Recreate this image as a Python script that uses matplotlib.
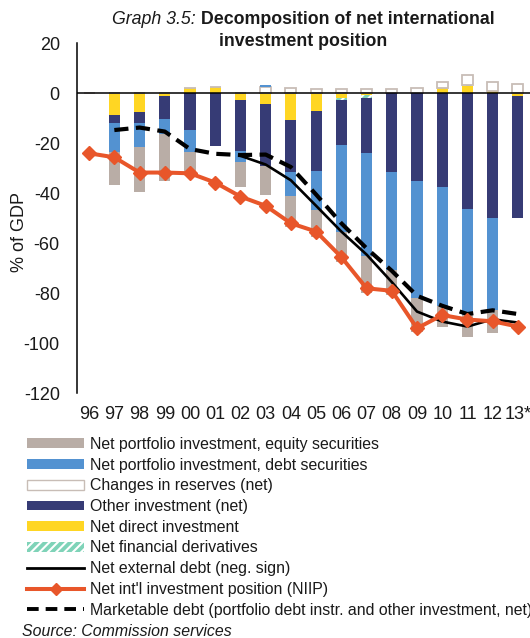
import matplotlib
matplotlib.use('Agg')
import matplotlib.pyplot as plt
import numpy as np
from matplotlib.patches import Patch
from matplotlib.lines import Line2D

plt.rcParams['font.family'] = ['Liberation Sans', 'DejaVu Sans']
plt.rcParams['hatch.linewidth'] = 1.5
plt.rcParams['axes.unicode_minus'] = False

# ---------------- data (% of GDP) ----------------
years = ['96', '97', '98', '99', '00', '01', '02', '03', '04', '05', '06', '07',
         '08', '09', '10', '11', '12', '13*']
direct = [0, -8.7, -7.3, -1.0, 2.3, 2.7, -2.7, -4.4, -10.7, -7.1, -2.0, -0.5,
          0, 0, 2.0, 2.9, 1.0, -0.9]
derivatives = [0, 0, 0, 0, 0, 0, 0, 0, 0, 0, -0.7, -1.3,
               0, 0, 0, 0.4, 0, 0]
reserves = [0, 0, 0, 0, 0, 0, 0, 2.5, 2.0, 1.8, 1.6, 1.6,
            1.6, 2.0, 2.4, 3.9, 3.7, 3.7]
other_inv = [0, -3.3, -4.7, -9.3, -14.7, -21.0, -20.4, -24.6, -20.9, -24.1, -17.8, -21.9,
             -31.3, -35.0, -37.3, -46.3, -50.0, -49.1]
debt_sec = [0, -11.6, -9.3, -6.1, -8.6, 0, -4.5, 0.8, -9.5, -15.5, -35.0, -41.3,
            -39.4, -47.0, -47.7, -42.4, -36.7, 0]
equity_sec = [0, -13.1, -18.0, -18.7, -7.7, 0, -9.7, -11.5, -12.4, -10.6, -12.0, -15.0,
              -10.0, -13.3, -8.5, -8.6, -9.3, 0]
niip = [-24.0, -25.6, -31.7, -31.7, -32.0, -35.7, -41.3, -45.0, -52.0, -55.3, -65.5, -78.0,
        -79.0, -94.0, -88.7, -90.5, -91.2, -93.3]
ext_debt = [np.nan, np.nan, np.nan, np.nan, np.nan, np.nan, -25.0, -28.5, -34.8, -45.0, -55.3, -64.5,
            -75.5, -87.3, -91.3, -93.3, -90.4, -91.7]
mkt_debt = [np.nan, -14.7, -13.7, -15.3, -22.3, -24.2, -24.7, -24.5, -29.5, -40.5, -52.0, -62.0,
            -71.0, -81.0, -85.0, -88.3, -86.8, -88.3]

labels = ['Net portfolio investment, equity securities',
          'Net portfolio investment, debt securities',
          'Changes in reserves (net)',
          'Other investment (net)',
          'Net direct investment',
          'Net financial derivatives',
          'Net external debt (neg. sign)',
          "Net int'l investment position (NIIP)",
          'Marketable debt (portfolio debt instr. and other investment, net)']

# ---------------- styles ----------------
C_EQ = '#B9ADA6'
C_DEBT = '#5392D1'
C_OTHER = '#363B75'
C_DIRECT = '#FFD623'
C_DERIV = '#7FD3B8'
C_RES_EDGE = '#C8BDB6'
C_NIIP = '#E8562A'

W, H = 530, 638
fig = plt.figure(figsize=(W / 100, H / 100), dpi=100)
ax_l, ax_r, ax_t, ax_b = 76.5, 530.5, 43.3, 393.3
ax = fig.add_axes([ax_l / W, 1 - ax_b / H, (ax_r - ax_l) / W, (ax_b - ax_t) / H])

x = np.arange(len(years))
bw = 0.44
stack = [
    (direct, dict(color=C_DIRECT, linewidth=0)),
    (derivatives, dict(facecolor=C_DERIV, edgecolor='white', hatch='////', linewidth=0)),
    (reserves, dict(facecolor='white', edgecolor=C_RES_EDGE, linewidth=1.3)),
    (other_inv, dict(color=C_OTHER, linewidth=0)),
    (debt_sec, dict(color=C_DEBT, linewidth=0)),
    (equity_sec, dict(color=C_EQ, linewidth=0)),
]
pos = np.zeros(len(x))
neg = np.zeros(len(x))
for vals, kw in stack:
    v = np.array(vals, dtype=float)
    bottom = np.where(v >= 0, pos, neg)
    ax.bar(x, v, bw, bottom=bottom, zorder=2, **kw)
    pos += np.clip(v, 0, None)
    neg += np.clip(v, None, 0)

ax.axhline(0, color='black', lw=1.1, zorder=3)
ax.plot(x, ext_debt, color='black', lw=1.9, zorder=4)
ax.plot(x, mkt_debt, color='black', lw=3.0, dashes=(3.4, 1.8), zorder=5)
ax.plot(x, niip, color=C_NIIP, lw=2.9, marker='D', markersize=7, zorder=6)

ax.set_xlim(-0.5, len(x) - 0.5)
ax.set_ylim(-120, 20)
ax.set_yticks(np.arange(-120, 21, 20))
ax.set_xticks(x)
ax.set_xticklabels(years)
for s in ['top', 'right', 'bottom']:
    ax.spines[s].set_visible(False)
ax.spines['left'].set_linewidth(1.1)
ax.tick_params(axis='y', length=0, pad=12, labelsize=13, colors='#1a1a1a')
ax.tick_params(axis='x', length=0, pad=9, labelsize=13, colors='#1a1a1a')
ax.patch.set_alpha(0)

fig.text(20 / W, 1 - 232 / H, '% of GDP', rotation=90, ha='center', va='center',
         fontsize=13, color='#1a1a1a')

# ---------------- title ----------------
cx = 303.5
renderer = fig.canvas.get_renderer()
t_it = fig.text(0, 1 - 20 / H, 'Graph 3.5: ', style='italic', fontsize=12.8,
                ha='left', va='center', color='#1a1a1a')
t_bd = fig.text(0, 1 - 20 / H, 'Decomposition of net international', fontweight='bold',
                fontsize=12.8, ha='left', va='center', color='#1a1a1a')
w_it = t_it.get_window_extent(renderer).width
w_bd = t_bd.get_window_extent(renderer).width
x0 = cx - (w_it + w_bd) / 2
t_it.set_x(x0 / W)
t_bd.set_x((x0 + w_it) / W)
fig.text(cx / W, 1 - 42 / H, 'investment position', fontweight='bold', fontsize=12.8,
         ha='center', va='center', color='#1a1a1a')

# ---------------- legend ----------------
handles = [
    Patch(facecolor=C_EQ, edgecolor='none'),
    Patch(facecolor=C_DEBT, edgecolor='none'),
    Patch(facecolor='white', edgecolor=C_RES_EDGE, linewidth=1.0),
    Patch(facecolor=C_OTHER, edgecolor='none'),
    Patch(facecolor=C_DIRECT, edgecolor='none'),
    Patch(facecolor=C_DERIV, edgecolor='white', hatch='////', linewidth=0),
    Line2D([], [], color='black', lw=2.0),
    Line2D([], [], color=C_NIIP, lw=2.9, marker='D', markersize=6, markevery=[1]),
    Line2D([], [], color='black', lw=2.8, dashes=(3.0, 1.8)),
]
leg = fig.legend(handles, labels, loc='upper left', bbox_to_anchor=(27 / W, 1 - 437 / H),
                 frameon=False, fontsize=11.4, handlelength=3.6, handleheight=0.58,
                 handletextpad=0.38, labelspacing=0.36, borderpad=0, borderaxespad=0)
for t in leg.get_texts():
    t.set_color('#1a1a1a')

fig.text(22 / W, 1 - 631 / H, 'Source: Commission services', style='italic', fontsize=11.4,
         ha='left', va='center', color='#1a1a1a')

fig.savefig('out.png', dpi=100)
